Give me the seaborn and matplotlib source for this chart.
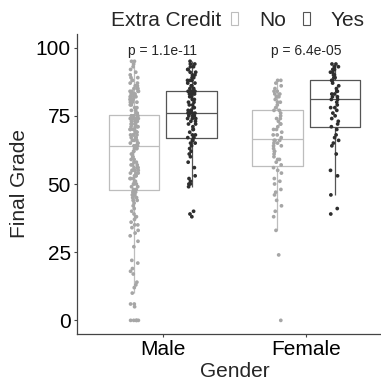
"""
Final grade by gender and extra credit - boxplot with jittered points
"""

import numpy as np
import pandas as pd
import matplotlib
matplotlib.use('Agg')
import matplotlib.pyplot as plt
import matplotlib.patches as mpatches
import seaborn as sns

# Categories and labels
genders = ['Male', 'Female']
credit_levels = ['No', 'Yes']
p_labels = ['p = 1.1e-11', 'p = 6.4e-05']

# Grades
male_no = [0, 0, 0, 0, 0, 5, 6, 6,
           10, 12, 13, 14, 17, 18, 19, 21, 22,
           27, 29, 31, 32, 33, 34, 35, 35, 36, 37, 38, 38, 39, 40,
           41, 42, 43, 44, 44, 45, 45, 46, 46, 46, 47, 47, 47, 47,
           48, 48, 49, 49, 50, 50, 50, 51, 51, 52, 52, 52, 53, 53, 53,
           54, 54, 54, 55, 55, 55, 55, 56, 56, 56, 57, 57, 57, 58, 58,
           59, 59, 60, 60, 61, 61, 62, 62, 63, 63, 63, 64, 64, 64, 64,
           64, 65, 65, 65, 66, 66, 66, 67, 67, 67, 68, 68, 68, 68, 69,
           69, 69, 69, 70, 70, 70, 70, 70, 71, 71, 71, 71, 72, 72, 72,
           72, 73, 73, 73, 73, 74, 74, 74, 74, 74, 75, 75, 75, 75, 75,
           76, 76, 77, 77, 78, 78, 79, 79, 80, 80, 80, 81, 81, 81, 82,
           82, 82, 82, 83, 83, 83, 83, 84, 84, 84, 84, 85, 85, 85, 86,
           86, 86, 87, 87, 88, 88, 89, 89, 90, 91, 92, 93, 94, 95, 95]
male_yes = [38, 39, 40, 49, 50, 50, 51, 52, 53, 56, 58, 60, 61, 62, 63,
            64, 65, 65, 66, 66, 67, 67,
            67, 68, 68, 69, 70, 70, 71, 72, 72, 73, 73, 74, 74, 74, 75,
            75, 75, 75, 76, 76, 76, 76,
            76, 77, 77, 77, 78, 78, 79, 79, 80, 80, 81, 81, 82, 82, 83,
            83, 83, 84, 84, 84, 84, 84,
            85, 85, 86, 86, 87, 87, 88, 88, 88, 89, 89, 90, 90, 91, 91,
            92, 92, 93, 93, 94, 94, 95]
female_no = [0, 24, 33, 38, 40, 42, 44, 46, 47, 48, 50, 51, 52, 54, 55, 56,
             57, 58, 59, 59, 60, 61, 62, 62, 63, 64, 64, 65, 65, 66, 66, 66,
             67, 68, 68, 69, 70, 70, 71, 72, 72, 73, 74, 74, 75, 76, 77, 77,
             78, 79, 80, 80, 81, 82, 82, 83, 83, 84, 84, 85, 86, 87, 88, 88]
female_yes = [39, 41, 46, 53, 55, 61, 64, 65, 66, 67, 68, 70,
              71, 72, 73, 74, 75, 76, 77, 78, 78, 79, 80, 81,
              81, 82, 82, 83, 83, 84, 84, 85, 86, 87, 88, 88,
              89, 89, 90, 90, 91, 91, 92, 92, 93, 93, 94, 94]

box_colors = ['#BDBDBD', '#555555']
point_colors = ['#A6A6A6', '#2E2E2E']


def build_frame():
    """Stack the four groups into one long table"""
    groups = [('Male', 'No', male_no), ('Male', 'Yes', male_yes),
              ('Female', 'No', female_no), ('Female', 'Yes', female_yes)]
    rows = []
    for g, c, vals in groups:
        for v in vals:
            rows.append({'Gender': g, 'Extra Credit': c, 'Final Grade': v})
    return pd.DataFrame(rows)


df = build_frame()

sns.set_theme(style='ticks')
plt.rcParams['font.family'] = ['Liberation Sans', 'DejaVu Sans']
fs = 15

fig = plt.figure(figsize=(3.81, 3.81), dpi=100)
ax = fig.add_axes([77 / 381, 47 / 381, 315 / 381, 300 / 381])

sns.boxplot(data=df, x='Gender', y='Final Grade', hue='Extra Credit',
            order=genders, hue_order=credit_levels, palette=box_colors,
            fill=False, width=0.8, gap=0.125, showfliers=False,
            showcaps=False, linewidth=0.9, legend=False, ax=ax)

np.random.seed(7)
sns.stripplot(data=df, x='Gender', y='Final Grade', hue='Extra Credit',
              order=genders, hue_order=credit_levels, palette=point_colors,
              dodge=True, jitter=0.06, size=2.7, legend=False, ax=ax,
              zorder=3)

for i, lab in enumerate(p_labels):
    ax.text(i, 98.6, lab, ha='center', va='center', fontsize=10)

ax.set_xlim(-0.6, 1.6)
ax.set_ylim(-5, 105)
ax.set_yticks([0, 25, 50, 75, 100])
ax.set_xlabel('Gender', fontsize=fs, labelpad=2)
ax.set_ylabel('Final Grade', fontsize=fs, labelpad=5)
ax.tick_params(axis='both', labelsize=fs, length=2.5, width=0.8,
               pad=2, color='#444444', labelcolor='black')
sns.despine(ax=ax)
for side in ['left', 'bottom']:
    ax.spines[side].set_color('#444444')
    ax.spines[side].set_linewidth(0.9)

# Legend on top: title as text, keys as patches
fig.text(111 / 381, 1 - 20 / 381, 'Extra Credit', ha='left', va='center',
         fontsize=fs)
handles = [mpatches.Patch(facecolor='white', edgecolor=c, linewidth=0.8,
                          label=l) for c, l in zip(box_colors, credit_levels)]
fig.legend(handles=handles, loc='center left',
           bbox_to_anchor=(231 / 381, 1 - 20 / 381), ncol=2, frameon=False,
           fontsize=fs, handlelength=0.35, handleheight=0.6,
           handletextpad=1.0, columnspacing=0.8, borderpad=0,
           borderaxespad=0)

fig.savefig('out.png', dpi=100)
print("Saved: out.png")
